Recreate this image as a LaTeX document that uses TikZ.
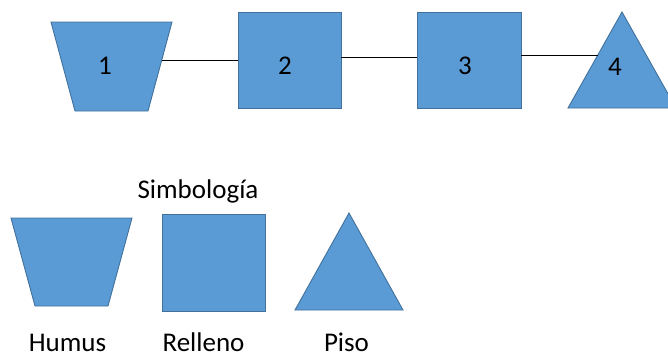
\documentclass[tikz,border=0pt]{standalone}
\usepackage{fontspec}
\setmainfont{Carlito}
\definecolor{shapefill}{HTML}{5B9BD5}
\definecolor{shapeline}{HTML}{41719C}
\begin{document}
\begin{tikzpicture}[x=1pt,y=-1pt,
  blueshape/.style={fill=shapefill,draw=shapeline,line width=0.9pt,line join=miter},
  lbl/.style={inner sep=0pt,font=\fontsize{27}{32}\selectfont},
  conn/.style={draw=black,line width=0.8pt}]
\useasboundingbox (0,0) rectangle (668,354);
% top row shapes
\draw[blueshape] (51,22) -- (172,22) -- (148,111) -- (75,111) -- cycle;
\draw[blueshape] (238,12) rectangle (341,108);
\draw[blueshape] (417,12) rectangle (521,108);
\draw[blueshape] (622,12) -- (676,108) -- (568,108) -- cycle;
% labels
\node[lbl] (n1) at (105,66) {1};
\node[lbl] (n2) at (285,66) {2};
\node[lbl] (n3) at (465,66) {3};
\node[lbl] (n4) at (615,67) {4};
% connector ends
\coordinate (c1r) at (162,60);
\coordinate (c2l) at (238,60);
\coordinate (c2r) at (341,57);
\coordinate (c3l) at (417,57);
\coordinate (c3r) at (521,55);
\coordinate (c4l) at (598,55);
\draw[conn] (c1r) -- (c2l);
\draw[conn] (c2r) -- (c3l);
\draw[conn] (c3r) -- (c4l);
% legend
\node[lbl,anchor=base] (simb) at (198,198) {Simbología};
\draw[blueshape] (11,218) -- (132,218) -- (108,306) -- (35,306) -- cycle;
\draw[blueshape] (162,214) rectangle (265,311);
\draw[blueshape] (349,213) -- (403,310) -- (295,310) -- cycle;
\node[lbl,anchor=base] (humus) at (67.5,351.5) {Humus};
\node[lbl,anchor=base] (relleno) at (203.5,351.5) {Relleno};
\node[lbl,anchor=base] (piso) at (346.5,351.5) {Piso};
\end{tikzpicture}
\end{document}
